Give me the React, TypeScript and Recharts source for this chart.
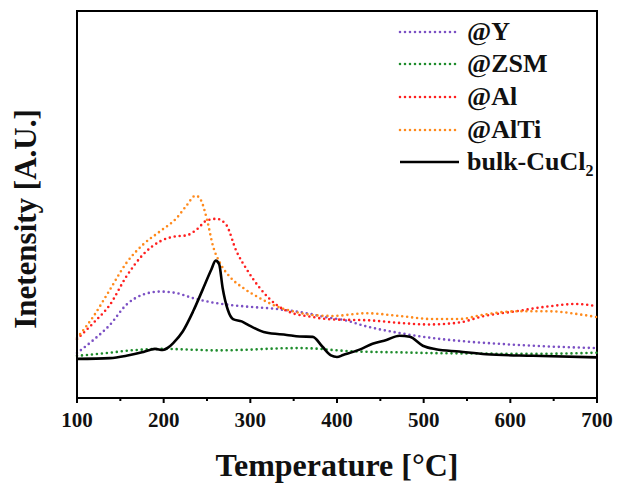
import { LineChart, Line, XAxis, YAxis } from 'recharts'

type Pt = { t: number; v: number }

// TPR profiles, temperature in °C vs intensity (arbitrary units)
const profileY: Pt[] = [
  { t: 100, v: 11.6 }, { t: 119, v: 15 }, { t: 138, v: 18.9 }, { t: 157, v: 24.1 },
  { t: 176, v: 26.7 }, { t: 196, v: 27.5 }, { t: 215, v: 27.1 }, { t: 234, v: 25.8 },
  { t: 261, v: 24.5 }, { t: 292, v: 23.7 }, { t: 330, v: 23 }, { t: 360, v: 22.1 },
  { t: 395, v: 20.6 }, { t: 407, v: 20.2 }, { t: 434, v: 18.5 }, { t: 472, v: 16.8 },
  { t: 510, v: 15.5 }, { t: 549, v: 14.6 }, { t: 587, v: 14 }, { t: 626, v: 13.5 },
  { t: 700, v: 12.9 },
]

const profileZSM: Pt[] = [
  { t: 100, v: 10.9 }, { t: 138, v: 11.7 }, { t: 157, v: 12.2 }, { t: 184, v: 12.6 },
  { t: 200, v: 12.7 }, { t: 230, v: 12.5 }, { t: 260, v: 12.3 }, { t: 300, v: 12.5 },
  { t: 330, v: 12.8 }, { t: 357, v: 12.9 }, { t: 380, v: 12.7 }, { t: 395, v: 12.4 },
  { t: 426, v: 12 }, { t: 470, v: 11.8 }, { t: 510, v: 11.6 }, { t: 560, v: 11.5 },
  { t: 626, v: 11.4 }, { t: 700, v: 11.7 },
]

const profileAl: Pt[] = [
  { t: 100, v: 15.2 }, { t: 119, v: 19.4 }, { t: 138, v: 24.1 }, { t: 157, v: 31.4 },
  { t: 176, v: 37 }, { t: 196, v: 40.5 }, { t: 215, v: 41.8 }, { t: 226, v: 42 },
  { t: 238, v: 43.5 }, { t: 250, v: 45.9 }, { t: 261, v: 46.3 }, { t: 272, v: 44.8 },
  { t: 284, v: 37.9 }, { t: 296, v: 33.2 }, { t: 311, v: 28.4 }, { t: 330, v: 24.1 },
  { t: 349, v: 21.9 }, { t: 370, v: 21 }, { t: 388, v: 20.4 }, { t: 410, v: 20.2 },
  { t: 434, v: 20.1 }, { t: 472, v: 19.4 }, { t: 505, v: 19 }, { t: 541, v: 19.5 },
  { t: 568, v: 21.1 }, { t: 606, v: 22.4 }, { t: 645, v: 23.7 }, { t: 676, v: 24.3 },
  { t: 700, v: 23.7 },
]

const profileAlTi: Pt[] = [
  { t: 100, v: 15.5 }, { t: 119, v: 21.1 }, { t: 138, v: 28 }, { t: 157, v: 34.9 },
  { t: 176, v: 39.6 }, { t: 196, v: 43.1 }, { t: 215, v: 46.5 }, { t: 226, v: 49.6 },
  { t: 237, v: 52.3 }, { t: 243, v: 51.1 }, { t: 250, v: 46.1 }, { t: 257, v: 39.2 },
  { t: 265, v: 34.9 }, { t: 276, v: 31.4 }, { t: 292, v: 28.4 }, { t: 311, v: 25.8 },
  { t: 330, v: 23.7 }, { t: 349, v: 22.4 }, { t: 370, v: 21.5 }, { t: 395, v: 21.2 },
  { t: 434, v: 21.9 }, { t: 472, v: 21.2 }, { t: 510, v: 20.4 }, { t: 541, v: 20.4 },
  { t: 568, v: 21.5 }, { t: 606, v: 22.4 }, { t: 645, v: 22.4 }, { t: 683, v: 21.5 },
  { t: 700, v: 20.9 },
]

const profileBulk: Pt[] = [
  { t: 100, v: 10.1 }, { t: 138, v: 10.3 }, { t: 157, v: 10.9 }, { t: 175, v: 11.8 },
  { t: 184, v: 12.4 }, { t: 190, v: 12.7 }, { t: 199, v: 12.4 }, { t: 205, v: 13 },
  { t: 211, v: 14.2 }, { t: 222, v: 17.2 }, { t: 234, v: 22.4 }, { t: 245, v: 28 },
  { t: 255, v: 33.2 }, { t: 260, v: 35.5 }, { t: 264, v: 34.6 }, { t: 268, v: 28.5 },
  { t: 274, v: 22.8 }, { t: 280, v: 20.4 }, { t: 290, v: 19.8 }, { t: 299, v: 18.7 },
  { t: 318, v: 16.9 }, { t: 342, v: 16.3 }, { t: 357, v: 15.9 }, { t: 372, v: 15.8 },
  { t: 383, v: 13.3 }, { t: 393, v: 11 }, { t: 400, v: 10.6 }, { t: 407, v: 11.1 },
  { t: 426, v: 12.5 }, { t: 441, v: 14 }, { t: 457, v: 15 }, { t: 472, v: 16.1 },
  { t: 484, v: 15.8 }, { t: 499, v: 13.5 }, { t: 514, v: 12.6 }, { t: 541, v: 12 },
  { t: 572, v: 11.3 }, { t: 626, v: 10.9 }, { t: 700, v: 10.5 },
]

const tempTicks = [100, 150, 200, 250, 300, 350, 400, 450, 500, 550, 600, 650, 700]

const series = [
  { name: '@Y', data: profileY, color: '#7b50c4', dotted: true },
  { name: '@ZSM', data: profileZSM, color: '#1e8c2c', dotted: true },
  { name: '@Al', data: profileAl, color: '#ff1f1f', dotted: true },
  { name: '@AlTi', data: profileAlTi, color: '#ff8a1c', dotted: true },
  { name: 'bulk-CuCl', data: profileBulk, color: '#000000', dotted: false },
]

const W = 617
const H = 483
const M = { top: 11, right: 20, left: 0, bottom: 0 }
const Y_AXIS_W = 77
const X_AXIS_H = 85

const serif = { fontFamily: 'Liberation Serif, Times New Roman, serif', fontWeight: 700 }
const DOTS = '0 5'

// eslint-disable-next-line @typescript-eslint/no-explicit-any
function TempTick({ x, y, payload }: any) {
  const major = payload.value % 100 === 0
  return (
    <g>
      <line x1={x} x2={x} y1={y} y2={y + (major ? 5 : 3)} stroke="#000" strokeWidth={2} />
      {major && (
        <text x={x} y={y + 29} textAnchor="middle" style={{ ...serif, fontSize: 21 }} fill="#111">
          {payload.value}
        </text>
      )}
    </g>
  )
}

function LegendBox() {
  const rowY = [32, 64, 97, 130, 162]
  return (
    <svg width={W} height={190} style={{ position: 'absolute', left: 0, top: 0, pointerEvents: 'none' }}>
      {series.map((s, i) => (
        <g key={s.name}>
          <line
            x1={400}
            x2={459}
            y1={rowY[i]}
            y2={rowY[i]}
            stroke={s.color}
            strokeWidth={2.6}
            strokeDasharray={s.dotted ? DOTS : undefined}
            strokeLinecap={s.dotted ? 'round' : 'butt'}
          />
          <text x={467} y={rowY[i] + 8} style={{ ...serif, fontSize: 26 }} fill="#111">
            {s.name}
            {!s.dotted && (
              <tspan style={{ fontSize: 16 }} dy={6}>2</tspan>
            )}
          </text>
        </g>
      ))}
    </svg>
  )
}

export default function App() {
  const plotLeft = M.left + Y_AXIS_W
  const plotTop = M.top
  const plotW = W - M.right - plotLeft
  const plotH = H - M.bottom - X_AXIS_H - plotTop
  return (
    <div style={{ position: 'absolute', left: 0, top: 0, width: W, height: H, background: '#fff' }}>
      {/* box around the plot area */}
      <div
        style={{
          position: 'absolute',
          left: plotLeft - 1,
          top: plotTop - 1,
          width: plotW + 2,
          height: plotH + 2,
          border: '2px solid #000',
          boxSizing: 'border-box',
        }}
      />
      <div style={{ position: 'absolute', left: 0, top: 0 }}>
        <LineChart width={W} height={H} margin={M}>
          <XAxis
            dataKey="t"
            type="number"
            domain={[100, 700]}
            ticks={tempTicks}
            interval={0}
            height={X_AXIS_H}
            tickSize={0}
            tickMargin={0}
            tickLine={false}
            axisLine={{ stroke: '#000', strokeWidth: 2 }}
            tick={<TempTick />}
            label={{
              content: () => (
                <text x={337} y={476} textAnchor="middle" style={{ ...serif, fontSize: 32 }} fill="#111">
                  Temperature [°C]
                </text>
              ),
            }}
          />
          <YAxis
            type="number"
            domain={[0, 100]}
            width={Y_AXIS_W}
            tick={false}
            tickLine={false}
            axisLine={{ stroke: '#000', strokeWidth: 2 }}
            label={{
              content: () => (
                <text
                  x={36}
                  y={219}
                  transform="rotate(-90, 36, 219)"
                  textAnchor="middle"
                  style={{ ...serif, fontSize: 31 }}
                  fill="#111"
                >
                  Inetensity [A.U.]
                </text>
              ),
            }}
          />
          {series.map((s) => (
            <Line
              key={s.name}
              data={s.data}
              dataKey="v"
              name={s.name}
              type="monotone"
              stroke={s.color}
              strokeWidth={2.6}
              strokeDasharray={s.dotted ? DOTS : undefined}
              strokeLinecap={s.dotted ? 'round' : 'butt'}
              dot={false}
              activeDot={false}
              isAnimationActive={false}
            />
          ))}
        </LineChart>
      </div>
      <LegendBox />
    </div>
  )
}
